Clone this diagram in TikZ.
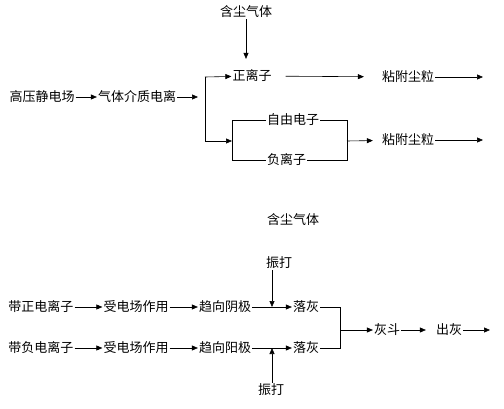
\documentclass[tikz,border=0pt]{standalone}
\usepackage{fontspec}
\newfontfamily\cjk{Noto Sans CJK SC}
\usetikzlibrary{arrows.meta}
\begin{document}
\begin{tikzpicture}[x=1pt,y=-1pt,line width=0.6pt,
  >={Triangle[length=6pt,width=5pt]},
  txt/.style={inner sep=0.8pt,font=\cjk\fontsize{13}{13}\selectfont}]
\useasboundingbox (0,0) rectangle (504,409);
% upper part
\node[txt] (gas1) at (246,12) {含尘气体};
\node[txt] (field) at (42,97) {高压静电场};
\node[txt] (ion) at (137,97) {气体介质电离};
\node[txt] (pos) at (252,76) {正离子};
\node[txt] (stick1) at (408,77) {粘附尘粒};
\node[txt] (stick2) at (408,140) {粘附尘粒};
\node[txt,anchor=west] (free) at (266,120) {自由电子};
\node[txt,anchor=west] (neg) at (266,160) {负离子};
\coordinate (b0) at (198,97);
\coordinate (s1) at (205,77);
\coordinate (s2) at (205,141);
\coordinate (bl1) at (232,120);
\coordinate (bl2) at (232,160);
\coordinate (br1) at (347,120);
\coordinate (br2) at (347,160);
\coordinate (bm) at (232,141);
\coordinate (bn) at (347,141);
\coordinate (o1) at (483,77);
\coordinate (o2) at (483,140);
\draw[->] (gas1.south) -- (gas1.south |- pos.north) [shorten >=10pt];
\draw (s1) -- (s2);
\draw (free.west) -- (bl1) -- (bl2) -- (neg.west);
\draw (free.east) -- (br1) -- (br2) -- (neg.east);
\draw[->,shorten <=13pt,shorten >=17pt] (pos) -- (stick1);
\draw[->,shorten >=8pt] (bn) -- (stick2);
\foreach \i/\j in {field/ion,ion/b0,s1/pos,s2/bm,stick1/o1,stick2/o2} {
  \draw[->] (\i) -- (\j);
}
% lower part
\node[txt] (gas2) at (293,220) {含尘气体};
\node[txt] (p1) at (41,307) {带正电离子};
\node[txt] (p2) at (136,307) {受电场作用};
\node[txt] (p3) at (225,307) {趋向阴极};
\node[txt] (fall1) at (306,307) {落灰};
\node[txt] (hit1) at (279,263) {振打};
\node[txt] (n1) at (41,348) {带负电离子};
\node[txt] (n2) at (136,348) {受电场作用};
\node[txt] (n3) at (225,348) {趋向阳极};
\node[txt] (fall2) at (306,348) {落灰};
\node[txt] (hit2) at (271,390) {振打};
\node[txt] (hopper) at (387,330) {灰斗};
\node[txt] (out) at (449,330) {出灰};
\coordinate (k1) at (272,307);
\coordinate (k2) at (272,348);
\coordinate (m1) at (340,307);
\coordinate (m2) at (340,348);
\coordinate (m) at (340,330);
\coordinate (o3) at (490,330);
\draw (fall1.east) -- (m1) -- (m2) -- (fall2.east);
\draw[->] (hit1.south -| k1) -- (k1);
\draw[->] (hit2.north -| k2) -- (k2);
\draw[->,shorten >=9pt] (hopper) -- (out);
\foreach \i/\j in {p1/p2,p2/p3,p3/fall1,n1/n2,n2/n3,n3/fall2,m/hopper,out/o3} {
  \draw[->] (\i) -- (\j);
}
\end{tikzpicture}
\end{document}
